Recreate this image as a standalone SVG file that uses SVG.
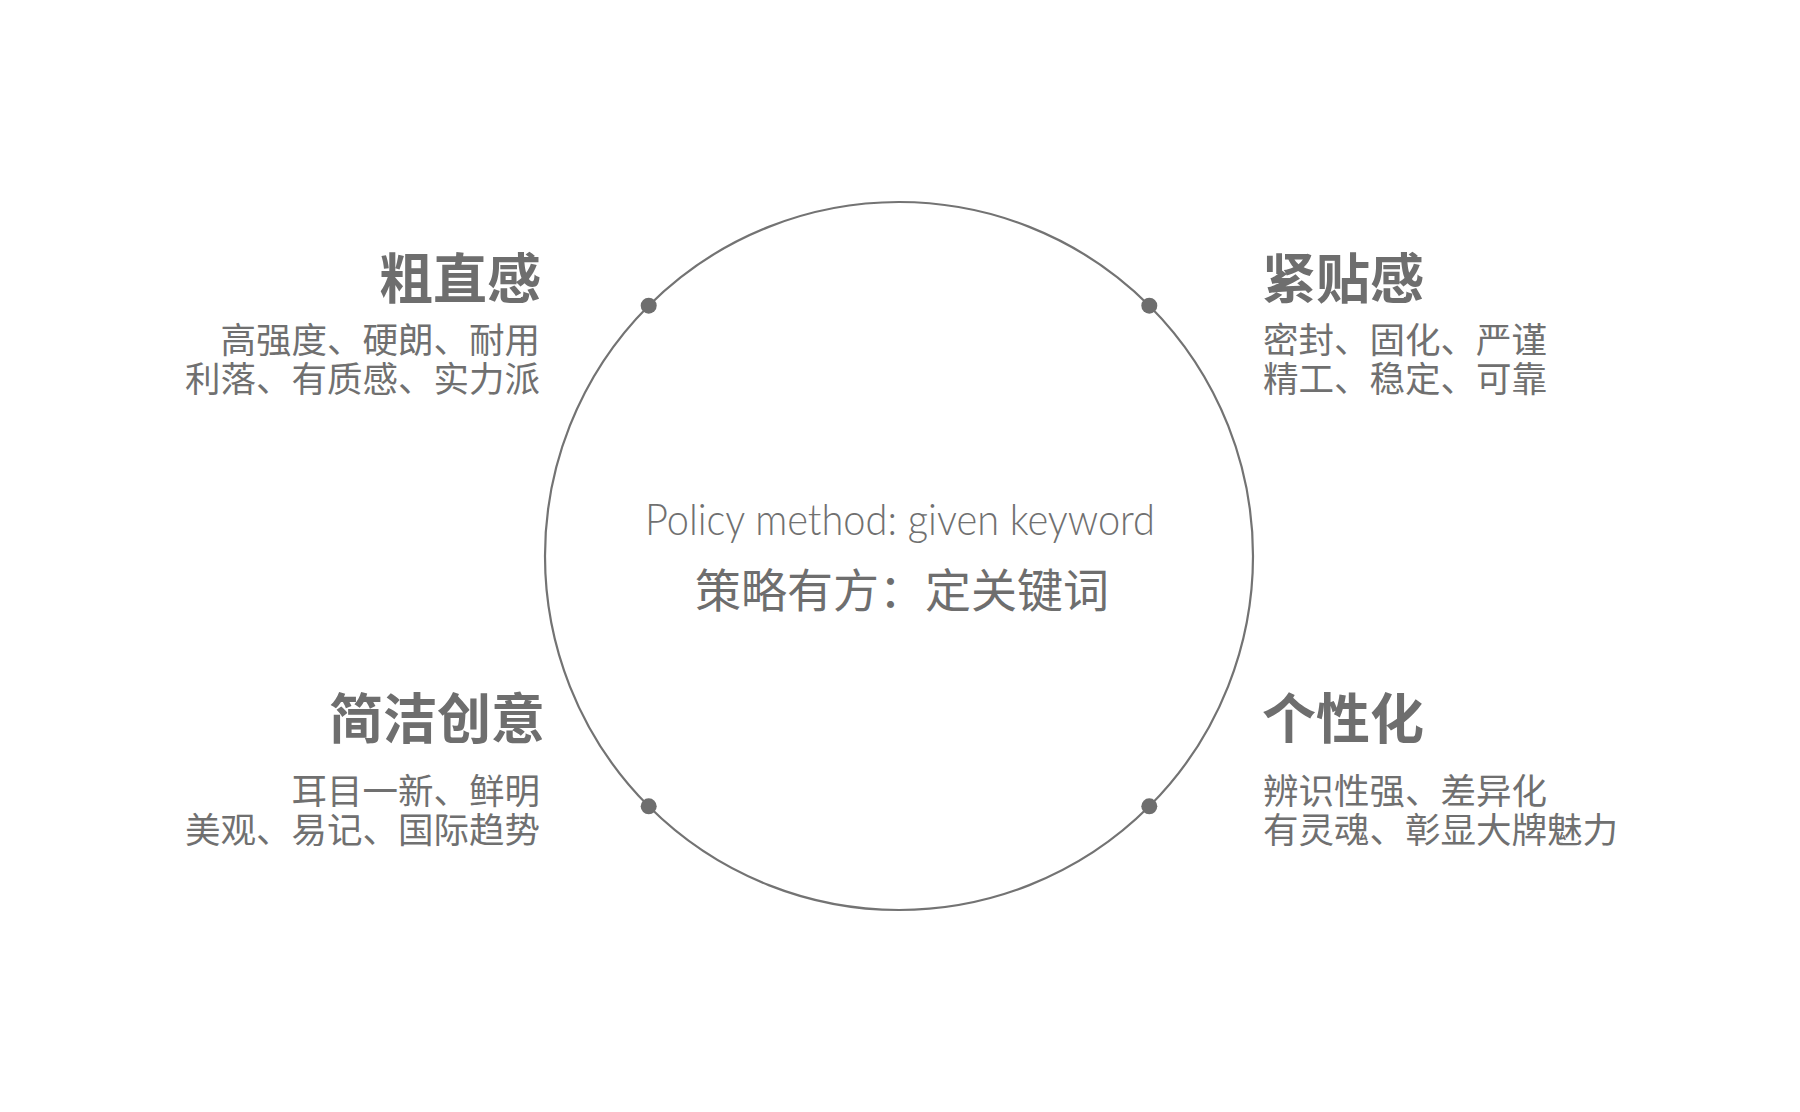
<svg xmlns="http://www.w3.org/2000/svg" width="1800" height="1112" viewBox="0 0 1800 1112">
<style>
.title{font-family:"Noto Sans CJK SC","Noto Sans",sans-serif;font-weight:700;font-size:54px;fill:#6e6e6e}
.desc{font-family:"Noto Sans CJK SC","Noto Sans",sans-serif;font-weight:400;font-size:35.5px;fill:#707070}
.en{font-family:Lato,"Open Sans",sans-serif;font-weight:300;font-size:44px;fill:#707070}
.cn{font-family:"Noto Sans CJK SC","Noto Sans",sans-serif;font-weight:400;font-size:46px;fill:#6e6e6e}
.dot{fill:#6e6e6e}
</style>
<rect width="1800" height="1112" fill="#ffffff"/>
<g id="connectors">
<circle cx="899" cy="556" r="354" fill="none" stroke="#737373" stroke-width="2.2"/>
</g>
<g id="center">
<text class="en" x="900" y="535" text-anchor="middle" textLength="510" lengthAdjust="spacingAndGlyphs">Policy method: given keyword</text>
<text class="cn" x="902" y="607" text-anchor="middle">策略有方：定关键词</text>
</g>
<g id="node-tl">
<circle class="dot" cx="648.7" cy="305.7" r="8"/>
<text class="title" x="541" y="299" text-anchor="end">粗直感</text>
<text class="desc" x="540" y="353" text-anchor="end">高强度、硬朗、耐用</text>
<text class="desc" x="540" y="392" text-anchor="end">利落、有质感、实力派</text>
</g>
<g id="node-tr">
<circle class="dot" cx="1149.3" cy="305.7" r="8"/>
<text class="title" x="1262" y="299">紧贴感</text>
<text class="desc" x="1263" y="353">密封、固化、严谨</text>
<text class="desc" x="1263" y="392">精工、稳定、可靠</text>
</g>
<g id="node-bl">
<circle class="dot" cx="648.7" cy="806.3" r="8"/>
<text class="title" x="545" y="739" text-anchor="end">简洁创意</text>
<text class="desc" x="540" y="804" text-anchor="end">耳目一新、鲜明</text>
<text class="desc" x="540" y="843" text-anchor="end">美观、易记、国际趋势</text>
</g>
<g id="node-br">
<circle class="dot" cx="1149.3" cy="806.3" r="8"/>
<text class="title" x="1262" y="739">个性化</text>
<text class="desc" x="1263" y="804">辨识性强、差异化</text>
<text class="desc" x="1263" y="843">有灵魂、彰显大牌魅力</text>
</g>
</svg>
